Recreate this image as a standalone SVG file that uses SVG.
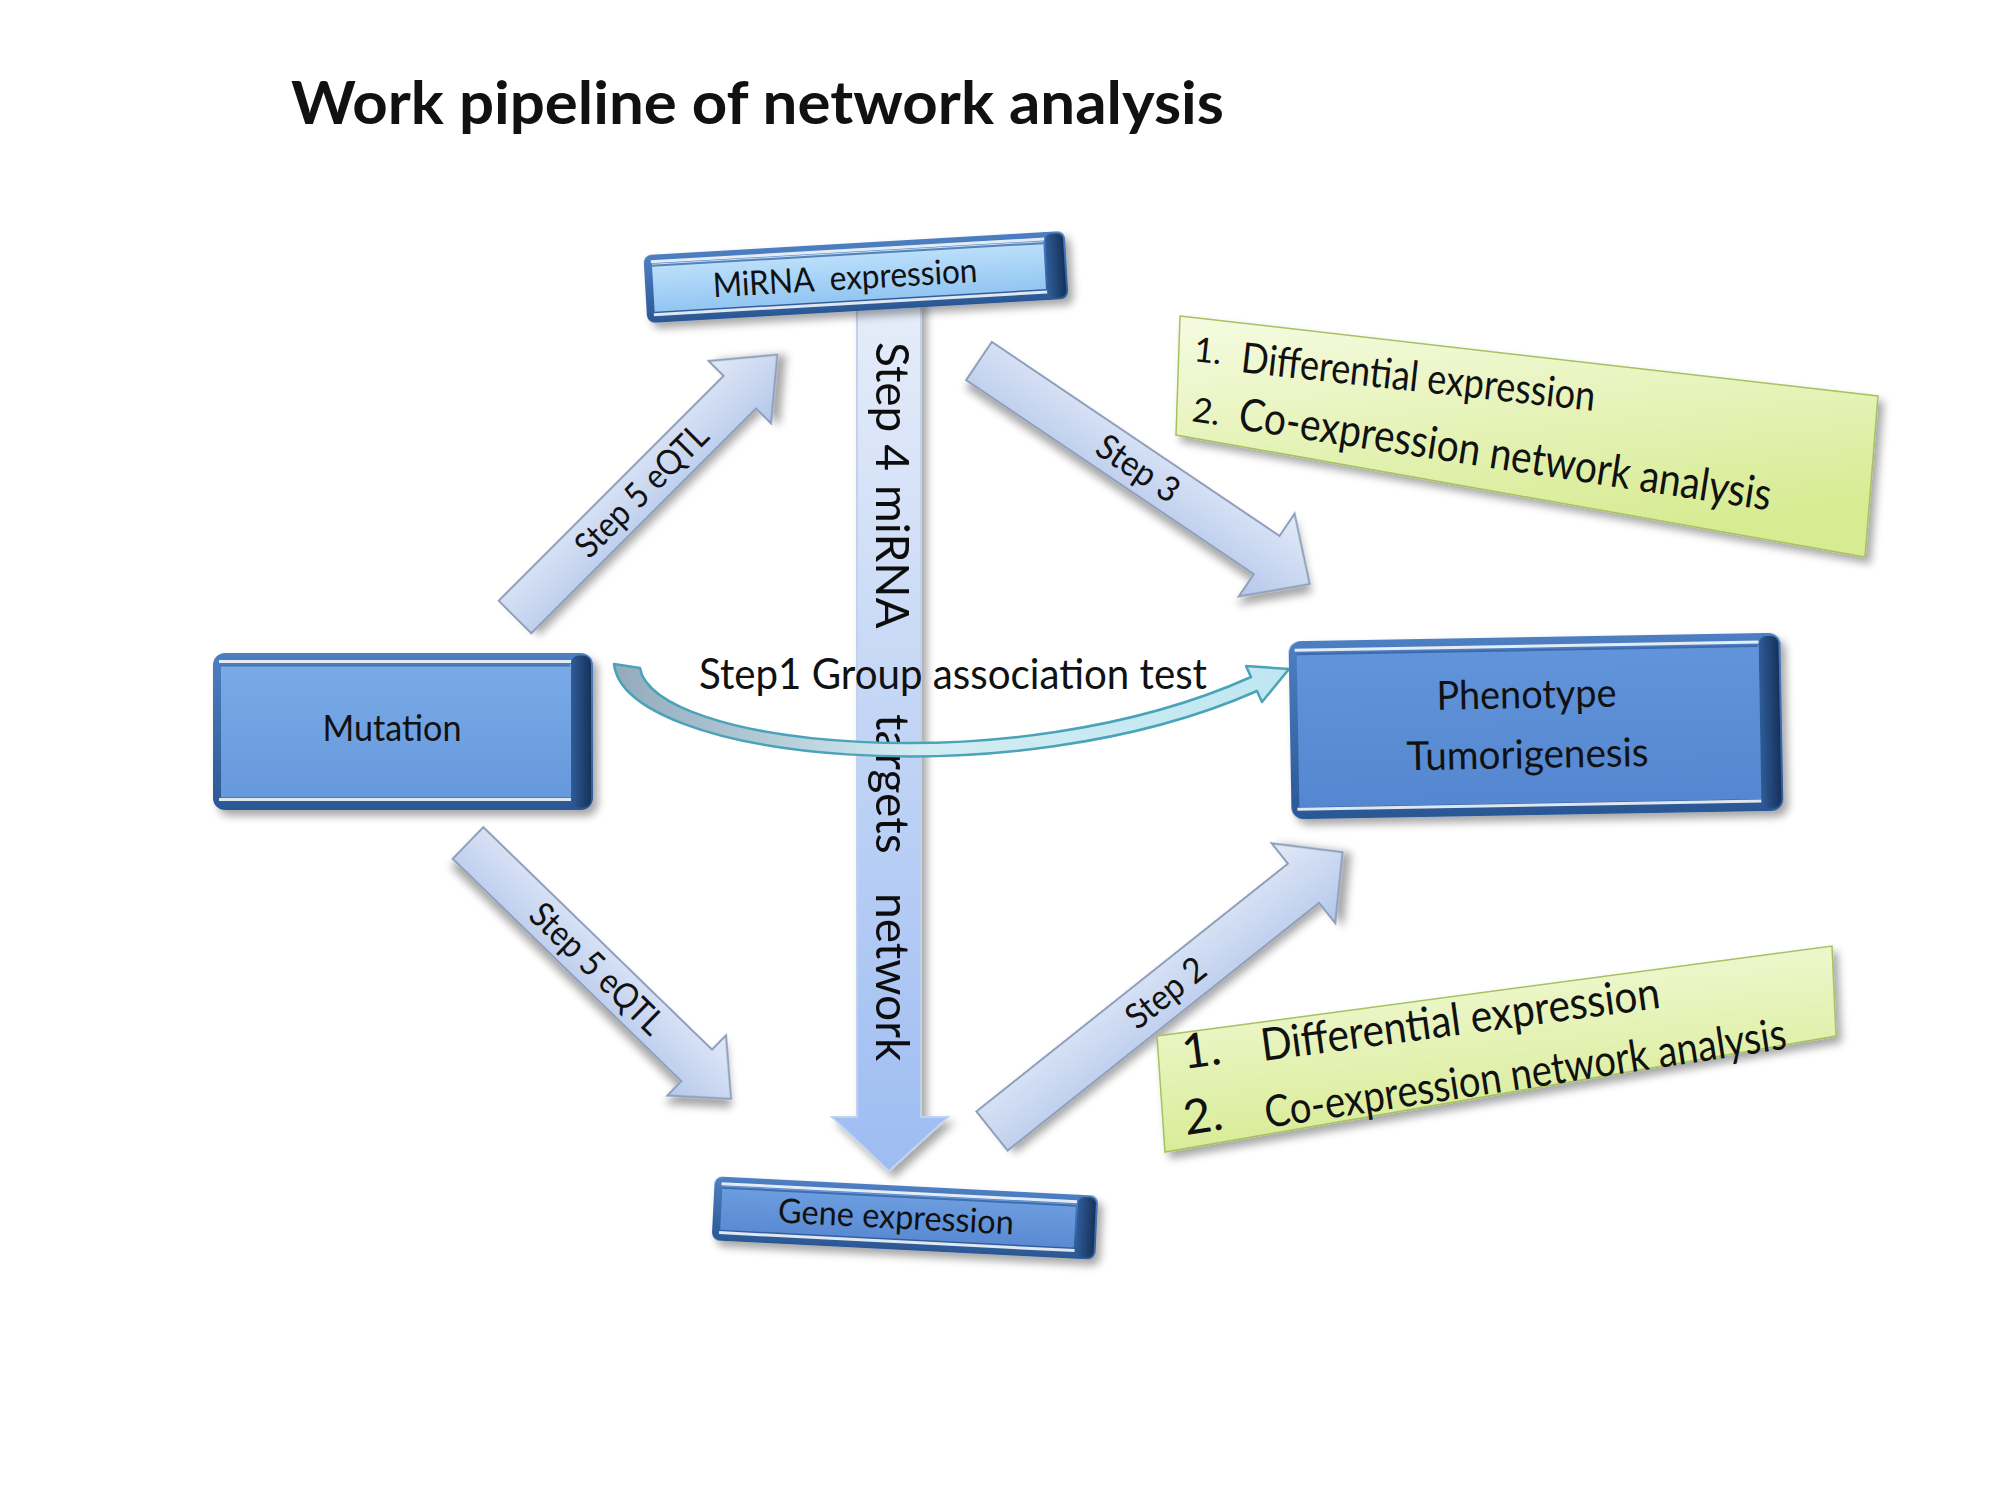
<svg xmlns="http://www.w3.org/2000/svg" width="2000" height="1500" viewBox="0 0 2000 1500">
<defs>
<filter id="sh" x="-15%" y="-15%" width="140%" height="150%">
<feGaussianBlur in="SourceAlpha" stdDeviation="4"/>
<feOffset dx="5" dy="6" result="o"/>
<feComponentTransfer><feFuncA type="linear" slope="0.35"/></feComponentTransfer>
<feMerge><feMergeNode/><feMergeNode in="SourceGraphic"/></feMerge>
</filter>
<linearGradient id="rim" x1="0" y1="0" x2="0" y2="1"><stop offset="0" stop-color="#4d7fc2"/><stop offset="1" stop-color="#2b5894"/></linearGradient>
<linearGradient id="bev" x1="0" y1="0" x2="1" y2="0"><stop offset="0" stop-color="#2f5c98"/><stop offset="1" stop-color="#16325a"/></linearGradient>
<linearGradient id="faceMut" x1="0" y1="0" x2="0" y2="1"><stop offset="0" stop-color="#7aaae6"/><stop offset="1" stop-color="#6698dc"/></linearGradient>
<linearGradient id="facePhe" x1="0" y1="0" x2="0" y2="1"><stop offset="0" stop-color="#6194da"/><stop offset="1" stop-color="#5587d0"/></linearGradient>
<linearGradient id="faceMir" x1="0" y1="0" x2="0" y2="1"><stop offset="0" stop-color="#bde0fb"/><stop offset="1" stop-color="#93c6f2"/></linearGradient>
<linearGradient id="faceGen" x1="0" y1="0" x2="0" y2="1"><stop offset="0" stop-color="#6d9ee0"/><stop offset="1" stop-color="#5a8ad3"/></linearGradient>
<linearGradient id="arr" x1="0" y1="0" x2="0" y2="1"><stop offset="0" stop-color="#e2eaf8"/><stop offset="1" stop-color="#b4c7ea"/></linearGradient>
<linearGradient id="varr" x1="0" y1="0" x2="0" y2="1"><stop offset="0" stop-color="#e6edf9"/><stop offset="1" stop-color="#9dbcf2"/></linearGradient>
<linearGradient id="curve" x1="0" y1="0" x2="1" y2="0"><stop offset="0" stop-color="#93aabb"/><stop offset="0.45" stop-color="#d3ecf3"/><stop offset="1" stop-color="#bfe7f1"/></linearGradient>
<linearGradient id="green" x1="0" y1="0" x2="0.3" y2="1"><stop offset="0" stop-color="#f6fbe2"/><stop offset="1" stop-color="#d7eb92"/></linearGradient>
</defs>
<style>
text{font-family:Lato,"Open Sans","Liberation Sans",sans-serif;fill:#111;}
.title{font-size:60px;font-weight:bold;}
.rim{fill:url(#rim);}
.bev{fill:url(#bev);}
.hl{stroke:#ffffff;stroke-width:3;stroke-opacity:0.85;}
.dk{stroke:#2c5a98;stroke-width:2;stroke-opacity:0.7;}
.arrow{fill:url(#arr);stroke:#8e9fbb;stroke-width:2;}
.lbl{font-size:35px;text-anchor:middle;}
.node{font-size:36px;text-anchor:middle;}
.green{fill:url(#green);stroke:#a6c25e;stroke-width:1.5;}
.gt{font-size:40px;}
</style>
<rect width="2000" height="1500" fill="#ffffff"/>
<text class="title" x="291" y="124" textLength="933" lengthAdjust="spacingAndGlyphs">Work pipeline of network analysis</text>

<g id="connectors">
<g id="step4" filter="url(#sh)">
<polygon points="857,300 921,300 921,1117 948,1117 889,1171 832,1117 857,1117" fill="url(#varr)" stroke="#c3d2ec" stroke-width="2"/>
<text transform="translate(889,0) rotate(90)" y="13" style="font-size:46px"><tspan x="342">Step 4</tspan><tspan x="485">miRNA</tspan><tspan x="714">targets</tspan><tspan x="893">network</tspan></text>
</g>
<g id="step5up" transform="translate(515,617) rotate(-45)">
<polygon class="arrow" filter="url(#sh)" points="0,-23 318,-23 318,-44 371,0 318,44 318,23 0,23"/>
<text class="lbl" x="179" y="12" textLength="172" lengthAdjust="spacingAndGlyphs">Step 5 eQTL</text>
</g>
<g id="step3" transform="translate(979,361) rotate(34)">
<polygon class="arrow" filter="url(#sh)" points="0,-23 347,-23 347,-50 399,0 347,50 347,23 0,23"/>
<text class="lbl" x="192" y="12" textLength="92" lengthAdjust="spacingAndGlyphs">Step 3</text>
</g>
<g id="step5down" transform="translate(468,843) rotate(44.2)">
<polygon class="arrow" filter="url(#sh)" points="0,-22 319,-22 319,-42 367,0 319,42 319,22 0,22"/>
<text class="lbl" x="180" y="12" textLength="172" lengthAdjust="spacingAndGlyphs">Step 5 eQTL</text>
</g>
<g id="step2" transform="translate(992,1131) rotate(-38.5)">
<polygon class="arrow" filter="url(#sh)" points="0,-25 398,-25 398,-51 448,0 398,51 398,25 0,25"/>
<text class="lbl" x="222" y="12" textLength="92" lengthAdjust="spacingAndGlyphs">Step 2</text>
</g>
<g id="step1">
<path d="M 614 664 C 625 760, 1010 800, 1257 691 L 1262 702 L 1289 669 L 1246 666 L 1251 677 C 1010 785, 652 745, 640 668 Z" fill="url(#curve)" stroke="#4aa3b8" stroke-width="2.5" stroke-linejoin="round"/>
<text x="699" y="689" style="font-size:43px" textLength="508" lengthAdjust="spacingAndGlyphs">Step1 Group association test</text>
</g>
</g>

<g id="mirna" transform="translate(856,277) rotate(-3.3)">
<g filter="url(#sh)">
<rect class="rim" x="-211" y="-34" width="422" height="68" rx="8"/>
<rect class="bev" x="191" y="-32" width="18" height="64" rx="6"/>
</g>
<rect x="-203" y="-25" width="392" height="48" fill="url(#faceMir)"/>
<line class="hl" x1="-204" y1="-27" x2="190" y2="-27"/>
<line class="hl" x1="-204" y1="26" x2="190" y2="26"/>
<line class="dk" x1="-203" y1="-23" x2="189" y2="-23"/>
<text class="node" x="-11" y="12" style="font-size:34px;white-space:pre" xml:space="preserve" textLength="265" lengthAdjust="spacingAndGlyphs">MiRNA  expression</text>
</g>

<g id="mutation" transform="translate(403,731.5)">
<g filter="url(#sh)">
<rect class="rim" x="-190" y="-78.5" width="380" height="157" rx="12"/>
<rect class="bev" x="168" y="-76" width="20" height="152" rx="8"/>
</g>
<rect x="-182" y="-67" width="350" height="133" fill="url(#faceMut)"/>
<line class="hl" x1="-184" y1="-70" x2="168" y2="-70"/>
<line class="hl" x1="-184" y1="68" x2="168" y2="68"/>
<line class="dk" x1="-182" y1="-66" x2="167" y2="-66"/>
<text class="node" x="-11" y="9" textLength="139" lengthAdjust="spacingAndGlyphs">Mutation</text>
</g>

<g id="phenotype" transform="translate(1536,726) rotate(-1)">
<g filter="url(#sh)">
<rect class="rim" x="-246" y="-89" width="492" height="178" rx="12"/>
<rect class="bev" x="224" y="-86" width="20" height="172" rx="8"/>
</g>
<rect x="-238" y="-77" width="462" height="154" fill="url(#facePhe)"/>
<line class="hl" x1="-240" y1="-80" x2="224" y2="-80"/>
<line class="hl" x1="-240" y1="79" x2="224" y2="79"/>
<line class="dk" x1="-238" y1="-76" x2="223" y2="-76"/>
<text class="node" x="-9" y="-18" style="font-size:40px" textLength="180" lengthAdjust="spacingAndGlyphs">Phenotype</text>
<text class="node" x="-9" y="42" style="font-size:40px" textLength="242" lengthAdjust="spacingAndGlyphs">Tumorigenesis</text>
</g>

<g id="gene" transform="translate(905,1218) rotate(2.9)">
<g filter="url(#sh)">
<rect class="rim" x="-192" y="-32" width="384" height="64" rx="8"/>
<rect class="bev" x="172" y="-30" width="18" height="60" rx="6"/>
</g>
<rect x="-184" y="-23" width="354" height="44" fill="url(#faceGen)"/>
<line class="hl" x1="-185" y1="-25" x2="171" y2="-25"/>
<line class="hl" x1="-185" y1="24" x2="171" y2="24"/>
<line class="dk" x1="-184" y1="-21" x2="170" y2="-21"/>
<text class="node" x="-9" y="11" style="font-size:34px" textLength="236" lengthAdjust="spacingAndGlyphs">Gene expression</text>
</g>

<g id="note-step3">
<polygon class="green" filter="url(#sh)" points="1180,316 1878,396 1865,557 1176,435"/>
<text class="gt" transform="translate(1193,361) rotate(6.3)" style="font-size:34px">1.</text>
<text class="gt" transform="translate(1240,372) rotate(6.3)" style="font-size:42px" textLength="356" lengthAdjust="spacingAndGlyphs">Differential expression</text>
<text class="gt" transform="translate(1191,421) rotate(8.7)" style="font-size:34px">2.</text>
<text class="gt" transform="translate(1237,429) rotate(8.7)" style="font-size:45px" textLength="538" lengthAdjust="spacingAndGlyphs">Co-expression network analysis</text>
</g>

<g id="note-step2">
<polygon class="green" filter="url(#sh)" points="1157,1036 1832,946 1836,1036 1165,1152"/>
<text class="gt" transform="translate(1184,1069) rotate(-7.6)" style="font-size:48px">1.</text>
<text class="gt" transform="translate(1263,1061) rotate(-7.6)" style="font-size:45px" textLength="402" lengthAdjust="spacingAndGlyphs">Differential expression</text>
<text class="gt" transform="translate(1186,1135) rotate(-8.7)" style="font-size:48px">2.</text>
<text class="gt" transform="translate(1267,1128) rotate(-8.7)" style="font-size:44px" textLength="527" lengthAdjust="spacingAndGlyphs">Co-expression network analysis</text>
</g>
</svg>
